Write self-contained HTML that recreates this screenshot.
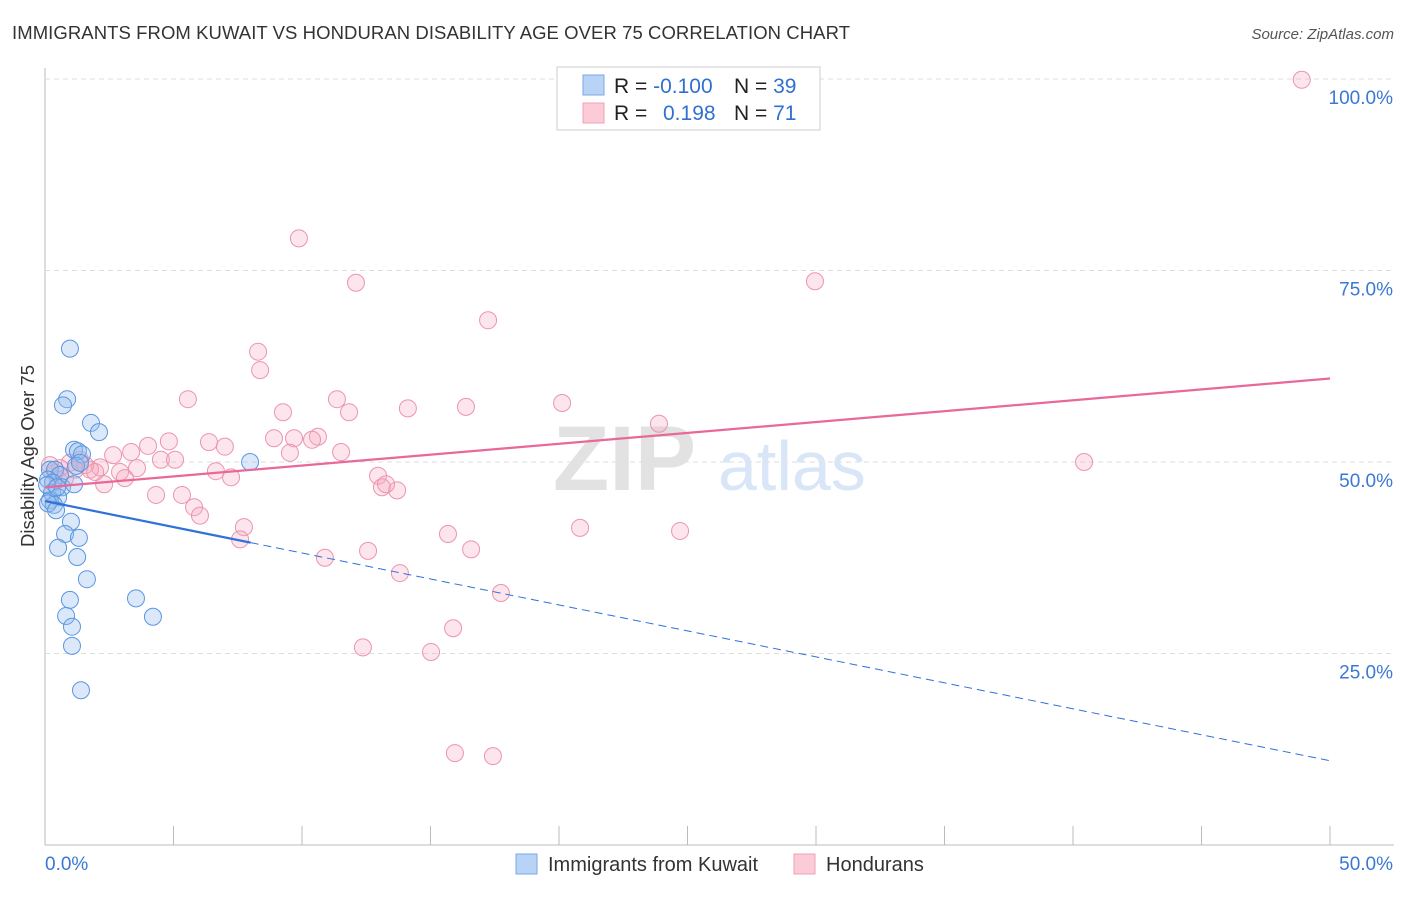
<!DOCTYPE html>
<html><head><meta charset="utf-8"><style>
body{margin:0;background:#fff;font-family:"Liberation Sans",sans-serif;}
svg text{font-family:"Liberation Sans",sans-serif;}
</style></head><body>
<svg id="c" width="1406" height="892" xmlns="http://www.w3.org/2000/svg">
<text x="12" y="39" font-size="18.5" fill="#333" textLength="838">IMMIGRANTS FROM KUWAIT VS HONDURAN DISABILITY AGE OVER 75 CORRELATION CHART</text>
<text x="1394" y="39" font-size="15" fill="#555" text-anchor="end" font-style="italic">Source: ZipAtlas.com</text>
<text x="34" y="456" font-size="18.5" fill="#333" text-anchor="middle" transform="rotate(-90 34 456)">Disability Age Over 75</text>
<g id="grid"></g>
<text x="553" y="490" font-size="92" fill="#e2e2e2" font-family="Liberation Serif" font-weight="bold">ZIP</text>
<text x="718" y="490" font-size="70" fill="#d8e6f7">atlas</text>
<g id="pts"></g>
<g id="lines"></g>
<g>
<rect x="557" y="67" width="263" height="63" fill="#fff" stroke="#ccc"/>
<rect x="583" y="75" width="21" height="20" fill="#b8d3f5" stroke="#7aaae8"/>
<rect x="583" y="103" width="21" height="20" fill="#fccbd8" stroke="#f0a0b8"/>
<text x="614" y="93" font-size="21" fill="#222">R = <tspan fill="#3070d0">-0.100</tspan></text>
<text x="734" y="93" font-size="21" fill="#222">N = <tspan fill="#3070d0">39</tspan></text>
<text x="614" y="120" font-size="21" fill="#222">R = <tspan fill="#3070d0" x="663">0.198</tspan></text>
<text x="734" y="120" font-size="21" fill="#222">N = <tspan fill="#3070d0">71</tspan></text>
</g>
<g>
<rect x="516" y="854" width="21" height="20" fill="#b8d3f5" stroke="#7aaae8"/>
<text x="548" y="871" font-size="20" fill="#333">Immigrants from Kuwait</text>
<rect x="794" y="854" width="21" height="20" fill="#fccbd8" stroke="#f0a0b8"/>
<text x="826" y="871" font-size="20" fill="#333">Hondurans</text>
</g>
</svg>
<script>
const blueX=[.97,.86,.70,1.79,2.10,1.13,1.28,1.44,1.21,1.36,.19,.39,.58,.12,.31,.66,1.13,.27,.51,.19,.35,.12,.43,1.01,.78,1.32,.51,1.25,1.63,3.54,.97,4.20,.82,1.05,1.05,1.40,7.98,.08,.47];
const blueY=[64.8,58.2,57.4,55.1,53.9,51.6,51.4,51.0,49.5,49.9,49.0,49.0,48.3,47.7,47.3,46.7,47.1,46.0,45.4,45.0,44.4,44.6,43.7,42.2,40.6,40.1,38.8,37.6,34.7,32.2,32.0,29.8,29.9,28.5,26.0,20.2,50.0,47.0,46.7];
const pinkX=[48.9,9.88,12.1,29.96,17.24,8.29,8.37,5.56,11.36,9.26,11.83,14.12,16.38,20.12,23.89,40.43,4.82,4.01,6.38,7.00,8.91,9.69,10.62,10.39,11.52,9.53,3.35,2.65,4.51,5.06,3.58,2.14,2.92,3.11,6.65,7.24,12.96,13.11,13.70,13.27,2.30,4.32,5.33,5.80,6.03,7.74,7.59,15.68,16.58,20.82,24.71,10.89,12.57,13.81,17.74,15.88,12.37,15.02,15.95,17.43,.97,1.36,1.75,.58,.39,.78,1.56,1.95,.19,1.17,.51];
const pinkY=[99.9,79.2,73.4,73.6,68.5,64.4,62.0,58.2,58.2,56.5,56.5,57.0,57.2,57.7,55.0,50.0,52.7,52.1,52.6,52.0,53.1,53.1,53.3,52.9,51.3,51.2,51.3,50.9,50.3,50.3,49.2,49.3,48.7,47.9,48.8,48.0,48.2,46.7,46.3,47.1,47.1,45.7,45.7,44.1,43.0,41.5,39.9,40.6,38.6,41.4,41.0,37.5,38.4,35.5,32.9,28.3,25.8,25.2,12.0,11.6,49.9,50.3,49.0,49.2,48.6,47.9,49.6,48.7,49.6,49.0,47.7];
const yTicks=[25,50,75,100];
const yTickLabels=["25.0%","50.0%","75.0%","100.0%"];
const xTicks=[0,5,10,15,20,25,30,35,40,45,50];
const blueTrend=[44.9,11.0];
const pinkTrend=[46.7,60.9];
const blueSolidEnd=8;

const NS="http://www.w3.org/2000/svg";
const X=v=>45+v/50*1285;
const Y=v=>845-v/100*766;
function mk(tag,attrs,parent){const e=document.createElementNS(NS,tag);for(const k in attrs)e.setAttribute(k,attrs[k]);parent.appendChild(e);return e;}
const grid=document.getElementById('grid');
let ax=mk('line',{x1:45,y1:68,x2:45,y2:845,stroke:'#bbb'},grid);


let bx=mk('line',{x1:45,y1:845,x2:1394,y2:845,stroke:'#bbb'},grid);


yTicks.forEach((t,i)=>{
 let g=mk('line',{x1:45,x2:1394,y1:Y(t),y2:Y(t),stroke:'#ddd','stroke-dasharray':'5,4'},grid);
 
 
 let tx=mk('text',{x:1393,y:Y(t)+25,'font-size':19,fill:'#3a78d4','text-anchor':'end'},grid);
 tx.textContent=yTickLabels[i];
 
 
});
xTicks.forEach(t=>{
 let l=mk('line',{x1:X(t),x2:X(t),y1:826,y2:845,stroke:'#bbb'},grid);
 
 
});
let xl0=mk('text',{x:45,y:870,'font-size':19,fill:'#3a78d4'},grid);xl0.textContent=xTicks[0].toFixed(1)+'%';


let xl1=mk('text',{x:1393,y:870,'font-size':19,fill:'#3a78d4','text-anchor':'end'},grid);xl1.textContent=xTicks[xTicks.length-1].toFixed(1)+'%';


const pts=document.getElementById('pts');
pinkX.forEach((x,i)=>{
 let c=mk('circle',{cx:X(x),cy:Y(pinkY[i]),r:8.5,fill:'rgba(246,170,192,0.3)',stroke:'#ec94ae','stroke-width':1},pts);
 
 
});
blueX.forEach((x,i)=>{
 let c=mk('circle',{cx:X(x),cy:Y(blueY[i]),r:8.5,fill:'rgba(150,188,238,0.35)',stroke:'#5a96e2','stroke-width':1},pts);
 
 
});
const lines=document.getElementById('lines');
const bAt=v=>blueTrend[0]+(blueTrend[1]-blueTrend[0])*v/50;
let p=mk('line',{x1:X(0),y1:Y(pinkTrend[0]),x2:X(50),y2:Y(pinkTrend[1]),stroke:'#e8689a','stroke-width':2.2},lines);


let b1=mk('line',{x1:X(0),y1:Y(bAt(0)),x2:X(blueSolidEnd),y2:Y(bAt(blueSolidEnd)),stroke:'#2f72d8','stroke-width':2.2},lines);


let b2=mk('line',{x1:X(blueSolidEnd),y1:Y(bAt(blueSolidEnd)),x2:X(50),y2:Y(bAt(50)),stroke:'#2f72d8','stroke-width':1,'stroke-dasharray':'8,5'},lines);


</script>
</body></html>
